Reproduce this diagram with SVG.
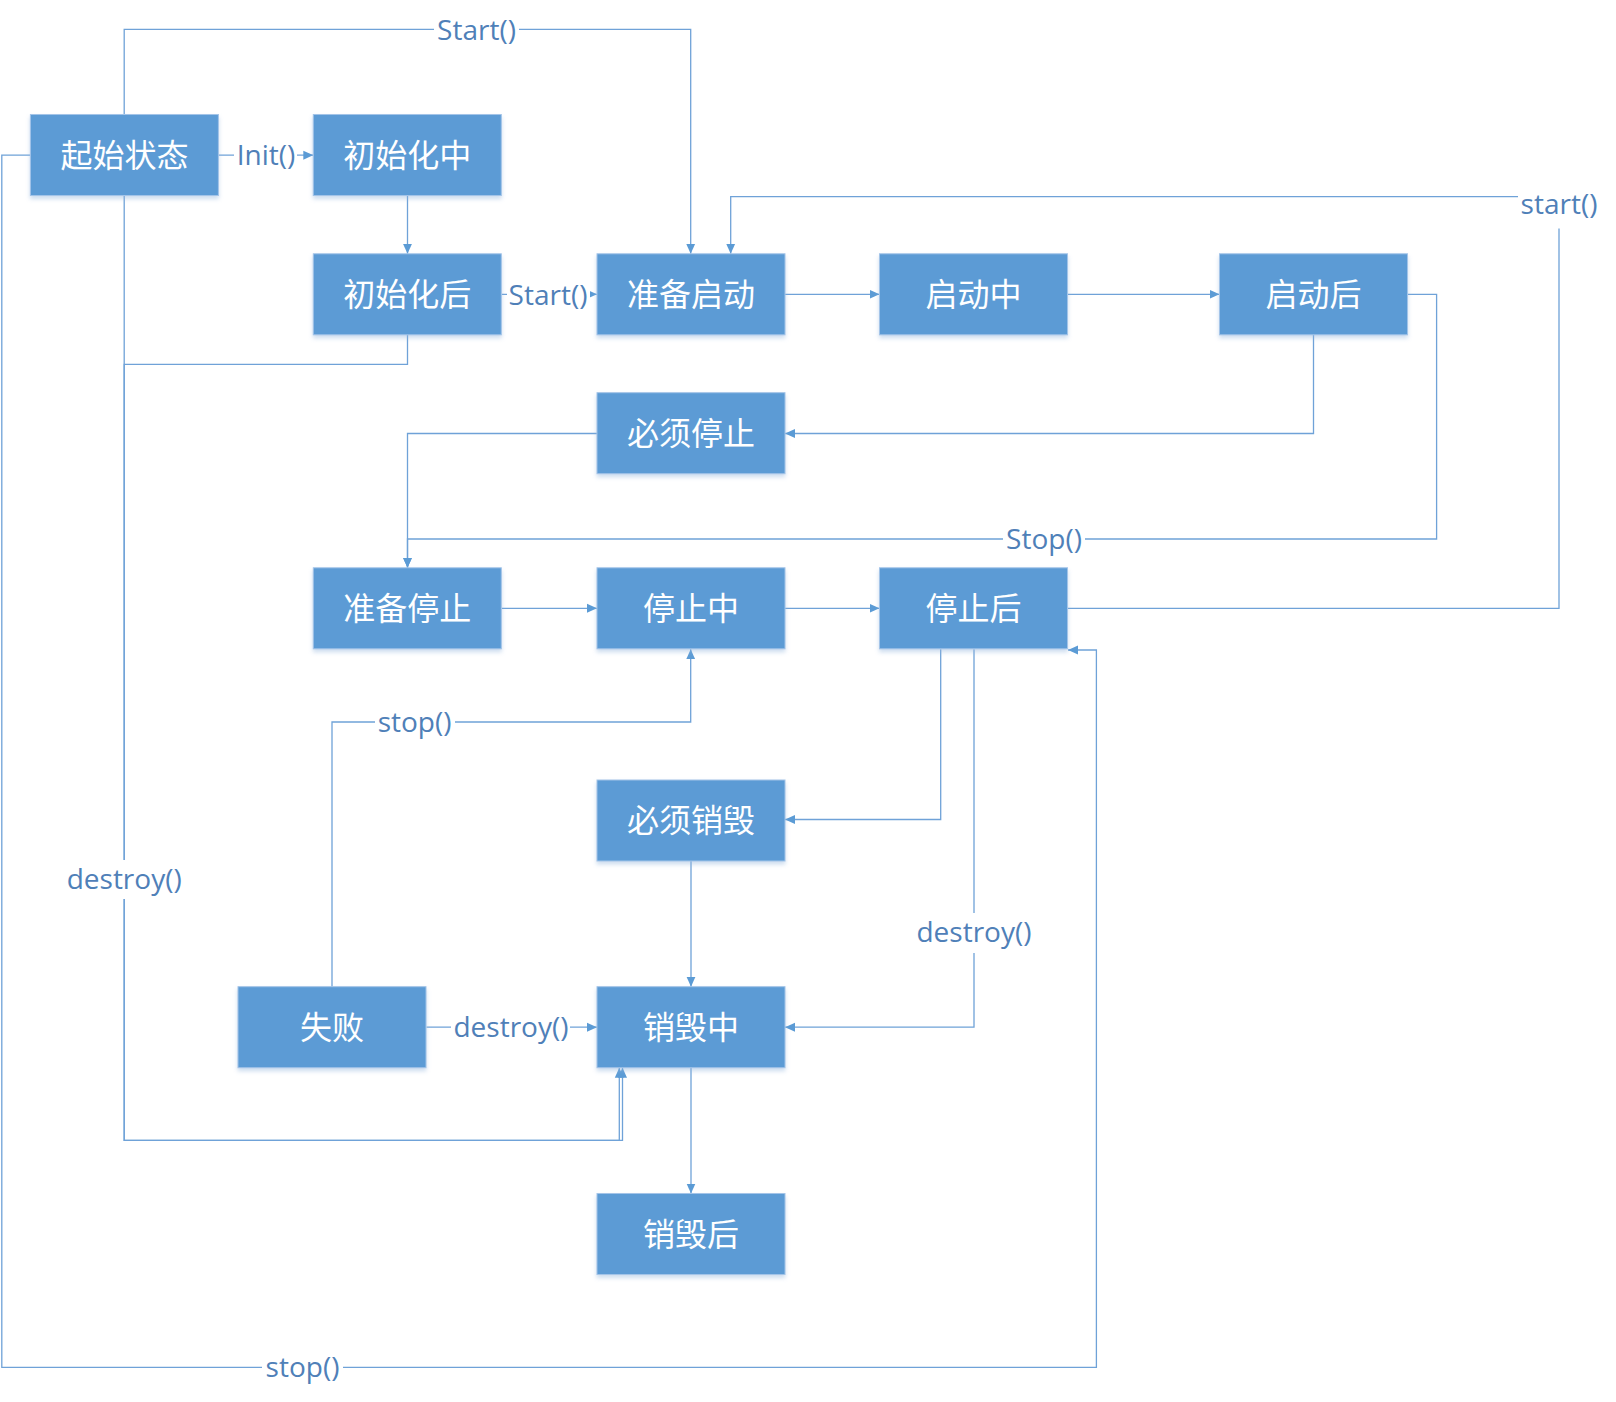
<svg xmlns="http://www.w3.org/2000/svg" width="1616" height="1402" viewBox="0 0 1616 1402">
<style>
.node rect{fill:#5B9BD5;stroke:#A3C4E8;stroke-width:1;filter:url(#sh)}
.node text{fill:#FFFFFF;font-family:"Noto Sans CJK SC","Noto Sans",sans-serif;font-size:32px;text-anchor:middle}
.edge{fill:none;stroke:#6FA2D8;stroke-width:1.3;marker-end:url(#arr)}
.lbl rect{fill:#FFFFFF}
.lbl text{fill:#4F80B8;font-family:"Open Sans","Liberation Sans",sans-serif;font-size:28px;text-anchor:middle}
</style>
<defs>
<filter id="sh" x="-10%" y="-10%" width="120%" height="130%">
<feDropShadow dx="0" dy="3" stdDeviation="2" flood-color="#8FB4DC" flood-opacity="0.45"/>
</filter>
<marker id="arr" markerUnits="userSpaceOnUse" markerWidth="10" markerHeight="10" viewBox="0 0 10 10" refX="10" refY="5" orient="auto">
<path d="M0,0.5 L10,5 L0,9.5 z" fill="#5B9BD5"/>
</marker>
</defs>
<rect width="1616" height="1402" fill="#FFFFFF"/>
<g id="connectors">
<path class="edge" d="M124.2,114.5 V29.3 H690.7 V253.8"/>
<path class="edge" d="M218.2,155.2 H313.3"/>
<path class="edge" d="M407.5,195.5 V253.8"/>
<path class="edge" d="M501.8,294.3 H597"/>
<path class="edge" d="M124.2,195.5 V1140.3 H619.3 V1067.7"/>
<path class="edge" d="M407.5,334.8 V364.3 H124.2 V1140.3 H622.5 V1067.7"/>
<path class="edge" d="M30.4,155.2 H1.8 V1367.3 H1096.4 V650 H1068"/>
<path class="edge" d="M785,294.3 H879.5"/>
<path class="edge" d="M1068,294.3 H1219.5"/>
<path class="edge" d="M1313.5,334.8 V433.5 H785"/>
<path class="edge" d="M1408,294.3 H1436.6 V539 H407.5 V567.8"/>
<path class="edge" d="M597,433.5 H407.5 V567.8"/>
<path class="edge" d="M501.8,608.3 H597"/>
<path class="edge" d="M785,608.3 H879.5"/>
<path class="edge" d="M1068,608.3 H1559 V196.7 H730.7 V253.8"/>
<path class="edge" d="M940.7,649.3 V819.5 H785"/>
<path class="edge" d="M974,649.3 V1027.2 H785"/>
<path class="edge" d="M691,861 V986.7"/>
<path class="edge" d="M426.4,1027.2 H597"/>
<path class="edge" d="M332,986.7 V722 H690.7 V649.3"/>
<path class="edge" d="M691,1067.7 V1193.5"/>
</g>
<g id="labels">
<g class="lbl"><rect x="434" y="14" width="85" height="32"/><text x="476.5" y="39.5">Start()</text></g>
<g class="lbl"><rect x="234" y="140" width="63" height="30"/><text x="266" y="165">Init()</text></g>
<g class="lbl"><rect x="507" y="279" width="83" height="31"/><text x="548" y="304.5">Start()</text></g>
<g class="lbl"><rect x="1003" y="524" width="82" height="31"/><text x="1044" y="549">Stop()</text></g>
<g class="lbl"><rect x="1518" y="195.5" width="84" height="33"/><text x="1559" y="214">start()</text></g>
<g class="lbl"><rect x="375" y="707" width="80" height="31"/><text x="414.6" y="732">stop()</text></g>
<g class="lbl"><rect x="64" y="860" width="121" height="39"/><text x="124.2" y="889">destroy()</text></g>
<g class="lbl"><rect x="914" y="913" width="121" height="40"/><text x="974" y="942">destroy()</text></g>
<g class="lbl"><rect x="451" y="1012" width="119" height="31"/><text x="511" y="1037">destroy()</text></g>
<g class="lbl"><rect x="262" y="1352" width="81" height="31"/><text x="302.5" y="1377">stop()</text></g>
</g>
<g id="n-qishi" class="node"><rect x="30.4" y="114.5" width="188" height="81"/><text x="124.4" y="167">起始状态</text></g>
<g id="n-chushihuazhong" class="node"><rect x="313.3" y="114.5" width="188" height="81"/><text x="407.3" y="167">初始化中</text></g>
<g id="n-chushihuahou" class="node"><rect x="313.3" y="253.8" width="188" height="81"/><text x="407.3" y="306">初始化后</text></g>
<g id="n-zhunbeiqidong" class="node"><rect x="597" y="253.8" width="188" height="81"/><text x="691" y="306">准备启动</text></g>
<g id="n-qidongzhong" class="node"><rect x="879.5" y="253.8" width="188" height="81"/><text x="973.5" y="306">启动中</text></g>
<g id="n-qidonghou" class="node"><rect x="1219.5" y="253.8" width="188" height="81"/><text x="1313.5" y="306">启动后</text></g>
<g id="n-bixutingzhi" class="node"><rect x="597" y="392.7" width="188" height="81"/><text x="691" y="445">必须停止</text></g>
<g id="n-zhunbeitingzhi" class="node"><rect x="313.3" y="567.8" width="188" height="81"/><text x="407.3" y="620">准备停止</text></g>
<g id="n-tingzhizhong" class="node"><rect x="597" y="567.8" width="188" height="81"/><text x="691" y="620">停止中</text></g>
<g id="n-tingzhihou" class="node"><rect x="879.5" y="567.8" width="188" height="81"/><text x="973.5" y="620">停止后</text></g>
<g id="n-bixuxiaohui" class="node"><rect x="597" y="780" width="188" height="81"/><text x="691" y="832">必须销毁</text></g>
<g id="n-shibai" class="node"><rect x="238" y="986.7" width="188" height="81"/><text x="332" y="1039">失败</text></g>
<g id="n-xiaohuizhong" class="node"><rect x="597" y="986.7" width="188" height="81"/><text x="691" y="1039">销毁中</text></g>
<g id="n-xiaohuihou" class="node"><rect x="597" y="1193.5" width="188" height="81"/><text x="691" y="1246">销毁后</text></g>
</svg>
